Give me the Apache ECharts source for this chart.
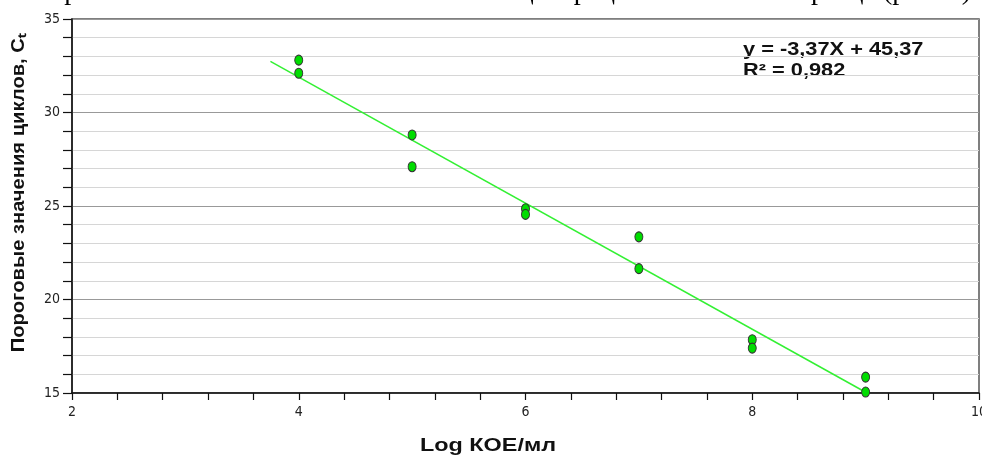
<!DOCTYPE html>
<html>
<head>
<meta charset="utf-8">
<script src="https://cdn.jsdelivr.net/npm/echarts@6/dist/echarts.min.js"></script>
<style>html,body{margin:0;padding:0;background:#fff;}#c{width:982px;height:456px;}</style>
</head>
<body>
<div id="c"></div>
<script>
// Data
const pointX = [4, 4, 5, 5, 6, 6, 7, 7, 8, 8, 9, 9];
const pointY = [32.8, 32.1, 28.8, 27.1, 24.85, 24.55, 23.35, 21.65, 17.85, 17.4, 15.85, 15.05];
const trendX = [3.75, 9];
const trendY = [32.73, 15.04];
const xTicks = [2, 4, 6, 8, 10];
const yTicks = [15, 20, 25, 30, 35];
const equationText = 'y = -3,37X + 45,37';
const r2Text = 'R² = 0,982';
const xTitle = 'Log КОЕ/мл';
const yTitle = 'Пороговые значения циклов, Cₜ';
const headerText = 'построена зависимость значений Ct от концентрации патогена в образце (рис. 3).';

const chart = echarts.init(document.getElementById('c'), null, {renderer: 'canvas'});
const labelFont = "'Liberation Sans Narrow','DejaVu Sans Condensed',sans-serif";
chart.setOption({
  animation: false,
  backgroundColor: '#fff',
  grid: {left: 72, right: 3, top: 19, bottom: 63, containLabel: false, outerBoundsMode: 'none',
         show: true, borderColor: '#555', borderWidth: 1.5},
  xAxis: {
    type: 'value', min: xTicks[0], max: xTicks[xTicks.length - 1], interval: 2,
    axisLine: {show: true, lineStyle: {color: '#111', width: 1.5}},
    axisTick: {show: true, length: 7, lineStyle: {color: '#111', width: 1.2}},
    minorTick: {show: true, splitNumber: 5, length: 7, lineStyle: {color: '#111', width: 1.2}},
    splitLine: {show: false},
    axisLabel: {margin: 12, fontSize: 14, color: '#222', fontFamily: labelFont, hideOverlap: false}
  },
  yAxis: {
    type: 'value', min: yTicks[0], max: yTicks[yTicks.length - 1], interval: 5,
    axisLine: {show: true, lineStyle: {color: '#111', width: 1.5}},
    axisTick: {show: true, length: 9, lineStyle: {color: '#111', width: 1.2}},
    minorTick: {show: true, splitNumber: 5, length: 9, lineStyle: {color: '#111', width: 1.2}},
    splitLine: {show: true, lineStyle: {color: '#999', width: 1.2}},
    minorSplitLine: {show: true, lineStyle: {color: '#d6d6d6', width: 1.2}},
    axisLabel: {margin: 12, fontSize: 14, color: '#222', fontFamily: labelFont}
  },
  series: [
    {
      type: 'line', data: trendX.map((x, i) => [x, trendY[i]]),
      showSymbol: false, symbol: 'none',
      lineStyle: {color: '#33f033', width: 1.5}, z: 2
    },
    {
      type: 'scatter', data: pointX.map((x, i) => [x, pointY[i]]),
      symbol: 'circle', symbolSize: [8, 10],
      itemStyle: {color: '#00dd00', borderColor: '#333', borderWidth: 1, opacity: 1}, z: 3
    }
  ],
  graphic: [
    {type: 'text', x: 978, y: -8, style: {text: headerText, font: "28px 'Liberation Serif', serif", fill: '#000', textAlign: 'right', textVerticalAlign: 'middle'}},
    {type: 'text', x: 743, y: 50, scaleX: 1.21, style: {text: equationText, font: "bold 18px 'Liberation Sans', Arial, sans-serif", fill: '#111', textAlign: 'left', textVerticalAlign: 'middle'}},
    {type: 'text', x: 743, y: 71, scaleX: 1.21, style: {text: r2Text, font: "bold 18px 'Liberation Sans', Arial, sans-serif", fill: '#111', textAlign: 'left', textVerticalAlign: 'middle'}},
    {type: 'text', x: 488, y: 446, scaleX: 1.3, style: {text: xTitle, font: "bold 18px 'Liberation Sans', Arial, sans-serif", fill: '#111', textAlign: 'center', textVerticalAlign: 'middle'}},
    {type: 'text', x: 19, y: 193, rotation: Math.PI / 2, scaleX: 1.12, style: {text: yTitle, font: "bold 18px 'Liberation Sans', Arial, sans-serif", fill: '#111', textAlign: 'center', textVerticalAlign: 'middle'}}
  ]
});
</script>
</body>
</html>
